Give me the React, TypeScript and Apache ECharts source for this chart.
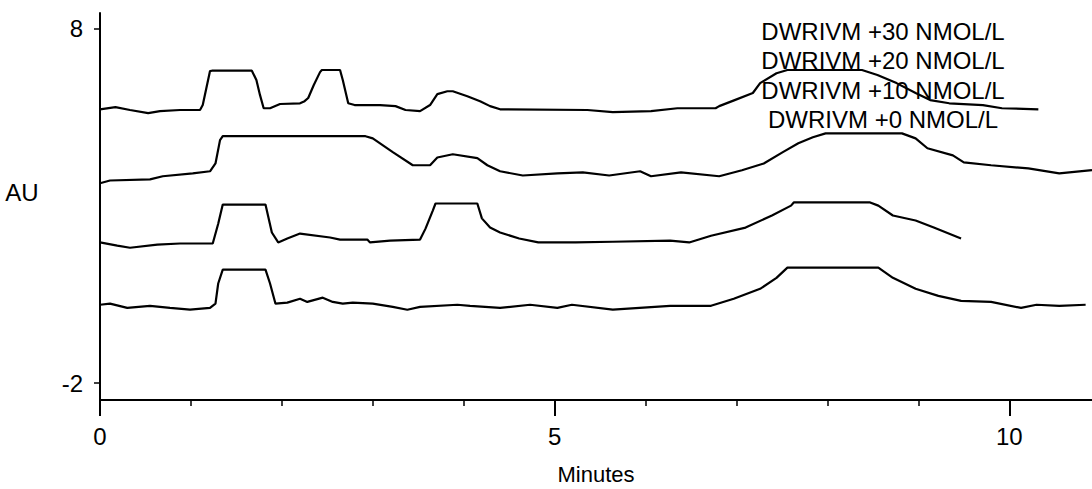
import React, { useEffect, useRef } from "react";
import * as echarts from "echarts";

const seriesNames = [
  "DWRIVM +30 NMOL/L",
  "DWRIVM +20 NMOL/L",
  "DWRIVM +10 NMOL/L",
  "DWRIVM +0 NMOL/L",
];

const trace30: [number, number][] = [
  [0, 5.73], [0.17, 5.79], [0.33, 5.71], [0.53, 5.62], [0.66, 5.68], [0.88, 5.71], [1.1, 5.71],
  [1.13, 5.85], [1.17, 6.33], [1.21, 6.81], [1.23, 6.82], [1.67, 6.82], [1.72, 6.56], [1.76, 6.13],
  [1.8, 5.76], [1.87, 5.76], [1.98, 5.88], [2.2, 5.9], [2.25, 5.96], [2.29, 6.05], [2.35, 6.41],
  [2.42, 6.78], [2.44, 6.84], [2.64, 6.84], [2.67, 6.56], [2.73, 5.9], [2.8, 5.85], [3.08, 5.85],
  [3.25, 5.82], [3.36, 5.71], [3.52, 5.68], [3.63, 5.85], [3.71, 6.16], [3.82, 6.24], [3.88, 6.24],
  [4.04, 6.1], [4.18, 5.96], [4.29, 5.82], [4.4, 5.73], [5.36, 5.71], [5.64, 5.65], [6.06, 5.68],
  [6.35, 5.76], [6.77, 5.76], [6.81, 5.82], [6.98, 5.99], [7.18, 6.19], [7.26, 6.47], [7.44, 6.75],
  [7.56, 6.84], [8.38, 6.84], [8.55, 6.7], [8.76, 6.47], [8.97, 6.19], [9.13, 5.99], [9.34, 5.9],
  [9.71, 5.85], [9.92, 5.76], [10.32, 5.73],
];

const trace20: [number, number][] = [
  [0, 3.64], [0.11, 3.72], [0.55, 3.75], [0.69, 3.84], [1.02, 3.92], [1.21, 3.98], [1.27, 4.2],
  [1.32, 4.86], [1.35, 4.97], [2.92, 4.97], [3.0, 4.91], [3.22, 4.52], [3.44, 4.15], [3.63, 4.15],
  [3.71, 4.37], [3.88, 4.46], [4.15, 4.35], [4.26, 4.15], [4.4, 3.98], [4.65, 3.86], [5.03, 3.92],
  [5.31, 3.95], [5.6, 3.86], [5.94, 3.98], [6.06, 3.84], [6.39, 3.95], [6.81, 3.84], [7.06, 4.01],
  [7.3, 4.2], [7.51, 4.52], [7.68, 4.77], [7.84, 4.94], [7.98, 5.05], [8.82, 5.05], [8.97, 4.91],
  [9.1, 4.63], [9.38, 4.43], [9.5, 4.23], [9.8, 4.15], [10.21, 4.06], [10.55, 3.92], [10.91, 4.01],
];

const trace10: [number, number][] = [
  [0, 1.97], [0.19, 1.88], [0.33, 1.82], [0.63, 1.91], [0.88, 1.94], [1.24, 1.94], [1.3, 2.5],
  [1.35, 3.04], [1.82, 3.04], [1.89, 2.25], [1.96, 1.97], [2.06, 2.08], [2.2, 2.22], [2.53, 2.11],
  [2.64, 2.05], [2.94, 2.05], [2.97, 1.97], [3.19, 2.02], [3.52, 2.05], [3.58, 2.36], [3.66, 2.87],
  [3.69, 3.07], [4.15, 3.07], [4.2, 2.65], [4.29, 2.39], [4.4, 2.25], [4.61, 2.08], [4.82, 1.97],
  [5.23, 1.97], [5.64, 1.99], [6.27, 2.02], [6.48, 1.97], [6.72, 2.16], [7.1, 2.39], [7.39, 2.73],
  [7.6, 3.01], [7.63, 3.1], [8.47, 3.1], [8.56, 3.01], [8.72, 2.73], [8.97, 2.59], [9.17, 2.39],
  [9.47, 2.08],
];

const trace0: [number, number][] = [
  [0, 0.21], [0.11, 0.24], [0.3, 0.12], [0.55, 0.18], [0.77, 0.12], [0.99, 0.07], [1.21, 0.12],
  [1.27, 0.24], [1.3, 0.81], [1.35, 1.2], [1.82, 1.2], [1.87, 0.81], [1.93, 0.24], [2.06, 0.27],
  [2.2, 0.38], [2.28, 0.29], [2.45, 0.41], [2.56, 0.29], [2.67, 0.24], [2.78, 0.27], [3.0, 0.24],
  [3.22, 0.15], [3.38, 0.07], [3.52, 0.15], [3.93, 0.21], [4.07, 0.18], [4.4, 0.12], [4.73, 0.21],
  [5.03, 0.12], [5.19, 0.21], [5.64, 0.07], [6.27, 0.18], [6.72, 0.18], [6.97, 0.38], [7.26, 0.66],
  [7.44, 0.97], [7.56, 1.26], [8.56, 1.26], [8.72, 0.97], [8.97, 0.66], [9.22, 0.46], [9.47, 0.32],
  [9.8, 0.29], [10.13, 0.12], [10.3, 0.21], [10.55, 0.18], [10.84, 0.21],
];

const traces = [trace30, trace20, trace10, trace0];
const xTickLabels = [0, 5, 10];
const yTickLabels = [-2, 8];

const FONT = "'Liberation Sans', Arial, sans-serif";

export default function App() {
  const ref = useRef<HTMLDivElement>(null);
  useEffect(() => {
    if (!ref.current) return;
    const chart = echarts.init(ref.current, undefined, { renderer: "svg" });
    chart.setOption({
      animation: false,
      backgroundColor: "#ffffff",
      grid: { left: 100, right: 0, top: 13, bottom: 89, containLabel: false, outerBoundsMode: "none" },
      xAxis: {
        type: "value",
        min: 0,
        max: 10.91,
        interval: 5,
        name: "Minutes",
        nameLocation: "middle",
        nameGap: 63,
        nameTextStyle: { color: "#000", fontSize: 22, fontFamily: FONT },
        axisLine: { show: true, onZero: false, lineStyle: { color: "#000", width: 2 } },
        axisTick: { show: true, inside: false, length: 16, customValues: xTickLabels, lineStyle: { color: "#000", width: 2 } },
        minorTick: { show: true, splitNumber: 5, length: 6, lineStyle: { color: "#000", width: 1.5 } },
        axisLabel: { customValues: xTickLabels, margin: 24, color: "#000", fontSize: 24, fontFamily: FONT },
        splitLine: { show: false },
        minorSplitLine: { show: false },
      },
      yAxis: {
        type: "value",
        min: -2.48,
        max: 8.45,
        axisLine: { show: true, onZero: false, lineStyle: { color: "#000", width: 2 } },
        axisTick: { show: true, length: 6, customValues: yTickLabels, lineStyle: { color: "#000", width: 1.5 } },
        axisLabel: { customValues: yTickLabels, margin: 17, color: "#000", fontSize: 24, fontFamily: FONT },
        splitLine: { show: false },
      },
      series: traces.map((data, i) => ({
        name: seriesNames[i],
        type: "line",
        data,
        showSymbol: false,
        symbol: "none",
        lineStyle: { color: "#000", width: 2.2 },
        silent: true,
      })),
      graphic: [
        {
          type: "text",
          x: 22,
          y: 192,
          style: { text: "AU", fill: "#000", fontSize: 24, fontFamily: FONT, align: "center", verticalAlign: "middle" },
        },
        ...seriesNames.map((n, i) => ({
          type: "text",
          x: 883,
          y: [31, 60, 90, 119][i],
          z: 10,
          style: { text: n, fill: "#000", fontSize: 24, fontFamily: FONT, align: "center", verticalAlign: "middle" },
        })),
      ],
    });
    return () => chart.dispose();
  }, []);
  return (
    <div
      ref={ref}
      style={{ position: "fixed", left: 0, top: 0, width: 1092, height: 489, background: "#fff" }}
    />
  );
}
